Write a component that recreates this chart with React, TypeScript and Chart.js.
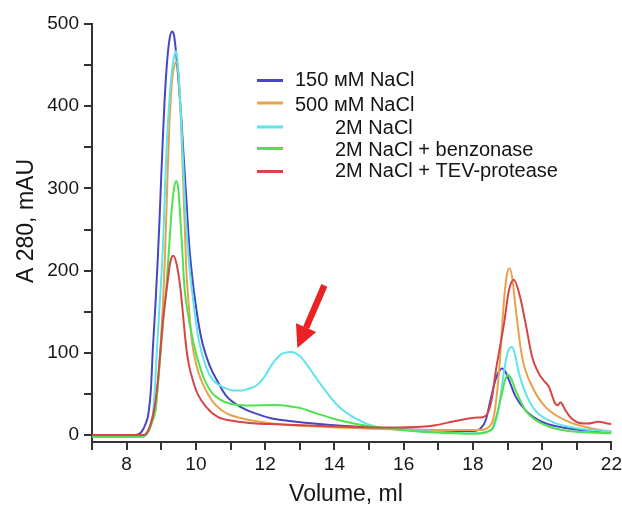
import React, { useEffect, useRef } from 'react';
import { Chart, registerables } from 'chart.js';

Chart.register(...registerables);

const FONT = '"Liberation Sans", Arial, Helvetica, sans-serif';

// ---- data ----
const seriesLabels = ['150 мМ NaCl', '500 мМ NaCl', '2M NaCl', '2M NaCl + benzonase', '2M NaCl + TEV-protease'];
const seriesColors = ['#4646c4', '#e6a24e', '#5fe4ec', '#4ee24e', '#d64646'];
const xTitle = 'Volume, ml';
const yTitle = 'A 280, mAU';

const volBlue = [7, 8.25, 8.35, 8.45, 8.55, 8.63, 8.7, 8.76, 8.84, 8.9, 8.95, 9.0, 9.05, 9.1, 9.17, 9.24, 9.31, 9.37, 9.45, 9.51, 9.58, 9.64, 9.72, 9.8, 9.9, 9.99, 10.1, 10.2, 10.4, 10.63, 10.87, 11.3, 11.74, 12.2, 12.7, 13.65, 15.1, 16.5, 17.3, 18.0, 18.15, 18.22, 18.37, 18.51, 18.65, 18.76, 18.84, 18.94, 19.04, 19.23, 19.52, 20.0, 20.77, 22];
const a280Blue = [0, 0, 1, 5, 14, 26, 55, 107, 165, 215, 262, 315, 365, 410, 455, 482, 491, 486, 455, 424, 385, 343, 290, 235, 190, 160, 130, 110, 84, 65, 48, 34, 26, 20, 17, 13, 9, 6, 5, 5, 6, 8, 18, 43, 67, 78, 81, 77, 67, 47, 30, 16, 8, 4];

const volOrange = [7, 8.45, 8.55, 8.65, 8.75, 8.83, 8.9, 8.98, 9.05, 9.11, 9.17, 9.24, 9.33, 9.4, 9.45, 9.52, 9.58, 9.64, 9.72, 9.8, 9.9, 10.02, 10.15, 10.4, 10.63, 10.9, 11.26, 12.2, 13.65, 15.6, 17.3, 18.2, 18.35, 18.46, 18.6, 18.75, 18.9, 18.98, 19.06, 19.14, 19.23, 19.42, 19.71, 20.1, 20.77, 21.44, 22];
const a280Orange = [-2, -2, 0, 6, 18, 30, 60, 107, 160, 220, 300, 383, 438, 452, 454, 425, 370, 300, 205, 155, 110, 84, 67, 46, 34, 26, 21, 14, 10, 7, 6, 6, 7, 10, 22, 75, 165, 195, 203, 190, 156, 95, 59, 34, 16, 8, 4];

const volCyan = [7, 8.45, 8.55, 8.62, 8.7, 8.76, 8.82, 8.88, 8.97, 9.05, 9.1, 9.15, 9.24, 9.33, 9.38, 9.43, 9.5, 9.6, 9.7, 9.8, 9.91, 10.0, 10.1, 10.3, 10.49, 10.8, 11.16, 11.3, 11.5, 11.74, 12.0, 12.2, 12.46, 12.75, 13.0, 13.18, 13.4, 13.65, 14.14, 14.62, 15.2, 16.06, 17.3, 18.0, 18.4, 18.6, 18.75, 18.89, 19.0, 19.13, 19.22, 19.33, 19.52, 19.8, 20.29, 21.05, 22];
const a280Cyan = [-2, -2, 0, 5, 15, 26, 60, 107, 170, 230, 290, 345, 410, 450, 462, 467, 440, 360, 270, 210, 168, 138, 112, 82, 67, 58, 54, 54, 56, 60, 72, 86, 98, 101, 96, 87, 74, 59, 34, 20, 10, 6, 3, 2, 4, 10, 34, 75, 100, 107, 97, 75, 51, 30, 16, 8, 4];

const volGreen = [7, 8.45, 8.55, 8.65, 8.75, 8.83, 8.9, 8.98, 9.05, 9.14, 9.24, 9.31, 9.37, 9.43, 9.49, 9.53, 9.59, 9.67, 9.8, 9.96, 10.1, 10.25, 10.45, 10.7, 11.0, 11.5, 12.3, 12.7, 13.0, 13.5, 14.14, 15.1, 16.5, 17.3, 18.0, 18.37, 18.47, 18.56, 18.7, 18.84, 18.93, 19.02, 19.1, 19.23, 19.52, 19.9, 20.57, 22];
const a280Green = [-2, -2, 0, 6, 18, 30, 60, 100, 135, 176, 237, 278, 300, 309, 300, 278, 237, 180, 140, 107, 85, 67, 52, 43, 38, 36, 36.5, 35, 33, 26, 18, 10, 4, 2.5, 1.5, 3, 5, 8, 26, 51, 67, 73, 69, 55, 30, 16, 6, 2];

const volRed = [7, 8.45, 8.55, 8.65, 8.75, 8.83, 8.9, 8.98, 9.05, 9.12, 9.17, 9.25, 9.3, 9.35, 9.42, 9.48, 9.56, 9.62, 9.72, 9.8, 9.91, 10.05, 10.3, 10.63, 11.1, 11.74, 12.35, 13.65, 15.6, 16.5, 16.92, 17.49, 18.06, 18.3, 18.42, 18.55, 18.65, 18.9, 19.04, 19.18, 19.35, 19.52, 19.71, 19.9, 20.05, 20.19, 20.38, 20.45, 20.53, 20.6, 20.67, 20.85, 21.05, 21.3, 21.63, 21.8, 22];
const a280Red = [0, 0, 1, 8, 22, 40, 65, 105, 140, 165, 182, 208, 216, 218, 212, 200, 176, 150, 107, 85, 67, 50, 34, 22, 17, 14, 13, 11, 9, 10, 12, 17, 21, 22, 26, 45, 75, 136, 176, 189, 170, 136, 95, 75, 66, 59, 38, 36, 40, 36, 30, 20, 15, 14, 16, 15, 13];

const xTickPositions = [7, 8, 9, 10, 11, 12, 13, 14, 15, 16, 17, 18, 19, 20, 21, 22];
const xTickLabels = [8, 10, 12, 14, 16, 18, 20, 22];
const yTickPositions = [0, 50, 100, 150, 200, 250, 300, 350, 400, 450, 500];
const yTickLabels = [0, 100, 200, 300, 400, 500];

// arrow pointing at the 2M NaCl shoulder peak (data coordinates)
const arrowTail = { x: 13.71, y: 182 };
const arrowTip = { x: 12.93, y: 106 };

const allVols = [volBlue, volOrange, volCyan, volGreen, volRed];
const allA280 = [a280Blue, a280Orange, a280Cyan, a280Green, a280Red];

const legendPlugin = {
  id: 'customLegend',
  afterDraw(chart: any) {
    const ctx = chart.ctx;
    const lineRows = [80.5, 103, 127, 148.5, 171.5];
    const textRows = [80.5, 105, 128, 150, 171];
    const textX = [295, 295, 335, 335, 335];
    ctx.save();
    chart.data.datasets.forEach((ds: any, i: number) => {
      ctx.strokeStyle = ds.borderColor;
      ctx.lineWidth = 3;
      ctx.beginPath();
      ctx.moveTo(257, lineRows[i]);
      ctx.lineTo(283, lineRows[i]);
      ctx.stroke();
      ctx.fillStyle = '#151515';
      ctx.font = `20px ${FONT}`;
      ctx.textBaseline = 'middle';
      ctx.textAlign = 'left';
      ctx.fillText(ds.label, textX[i], textRows[i]);
    });
    ctx.restore();
  },
};

const axisTitlePlugin = {
  id: 'axisTitles',
  afterDraw(chart: any) {
    const ctx = chart.ctx;
    ctx.save();
    ctx.fillStyle = '#151515';
    ctx.font = `23px ${FONT}`;
    ctx.textAlign = 'center';
    ctx.textBaseline = 'middle';
    ctx.fillText(xTitle, 346, 495);
    ctx.translate(27, 221);
    ctx.rotate(-Math.PI / 2);
    ctx.fillText(yTitle, 0, 0);
    ctx.restore();
  },
};

const arrowPlugin = {
  id: 'arrow',
  afterDatasetsDraw(chart: any) {
    const { ctx, scales } = chart;
    const x0 = scales.x.getPixelForValue(arrowTail.x);
    const y0 = scales.y.getPixelForValue(arrowTail.y);
    const x1 = scales.x.getPixelForValue(arrowTip.x);
    const y1 = scales.y.getPixelForValue(arrowTip.y);
    const ang = Math.atan2(y1 - y0, x1 - x0);
    const headLen = 22;
    const headW = 11;
    const bx = x1 - headLen * Math.cos(ang);
    const by = y1 - headLen * Math.sin(ang);
    ctx.save();
    ctx.strokeStyle = '#ea2222';
    ctx.fillStyle = '#ea2222';
    ctx.lineWidth = 6.5;
    ctx.beginPath();
    ctx.moveTo(x0, y0);
    ctx.lineTo(bx, by);
    ctx.stroke();
    ctx.beginPath();
    ctx.moveTo(x1, y1);
    ctx.lineTo(bx + headW * Math.sin(ang), by - headW * Math.cos(ang));
    ctx.lineTo(bx - headW * Math.sin(ang), by + headW * Math.cos(ang));
    ctx.closePath();
    ctx.fill();
    ctx.restore();
  },
};

export default function App() {
  const ref = useRef<HTMLCanvasElement>(null);
  useEffect(() => {
    const canvas = ref.current!;
    const orders = [5, 4, 3, 2, 1];
    const chart = new Chart(canvas, {
      type: 'line',
      data: {
        datasets: seriesLabels.map((label, i) => ({
          label,
          data: allVols[i].map((v, j) => ({ x: v, y: allA280[i][j] })),
          borderColor: seriesColors[i],
          backgroundColor: seriesColors[i],
          borderWidth: 2,
          pointRadius: 0,
          fill: false,
          cubicInterpolationMode: 'monotone' as const,
          order: orders[i],
        })),
      },
      options: {
        animation: false,
        responsive: false,
        devicePixelRatio: 1,
        layout: { padding: { left: 0, right: 12, top: 24, bottom: 0 } },
        plugins: { legend: { display: false }, tooltip: { enabled: false } },
        scales: {
          x: {
            type: 'linear',
            min: 7,
            max: 22,
            afterBuildTicks: (s: any) => {
              s.ticks = xTickPositions.map((v) => ({ value: v }));
            },
            afterFit: (s: any) => {
              s.height = 65;
            },
            ticks: {
              autoSkip: false,
              maxRotation: 0,
              padding: 3,
              color: '#151515',
              font: { family: FONT, size: 19 },
              callback: (v: any) => (xTickLabels.includes(Number(v)) ? String(v) : ''),
            },
            grid: { drawOnChartArea: false, drawTicks: true, tickLength: 8, color: '#333', lineWidth: 2 },
            border: { display: true, color: '#333', width: 2 },
            title: { display: false },
          },
          y: {
            type: 'linear',
            min: -8.5,
            max: 500,
            afterBuildTicks: (s: any) => {
              s.ticks = yTickPositions.map((v) => ({ value: v }));
            },
            afterFit: (s: any) => {
              s.width = 92;
            },
            ticks: {
              autoSkip: false,
              padding: 5,
              color: '#151515',
              font: { family: FONT, size: 19 },
              callback: (v: any) => (yTickLabels.includes(Number(v)) ? String(v) : ''),
            },
            grid: { drawOnChartArea: false, drawTicks: true, tickLength: 8, color: '#333', lineWidth: 2 },
            border: { display: true, color: '#333', width: 2 },
            title: { display: false },
          },
        },
      },
      plugins: [legendPlugin, axisTitlePlugin, arrowPlugin],
    } as any);
    return () => chart.destroy();
  }, []);
  return (
    <div style={{ position: 'fixed', left: 0, top: 0, width: 622, height: 507, overflow: 'hidden', background: '#fff' }}>
      <canvas ref={ref} width={625} height={507} style={{ display: 'block', width: 625, height: 507 }} />
    </div>
  );
}
